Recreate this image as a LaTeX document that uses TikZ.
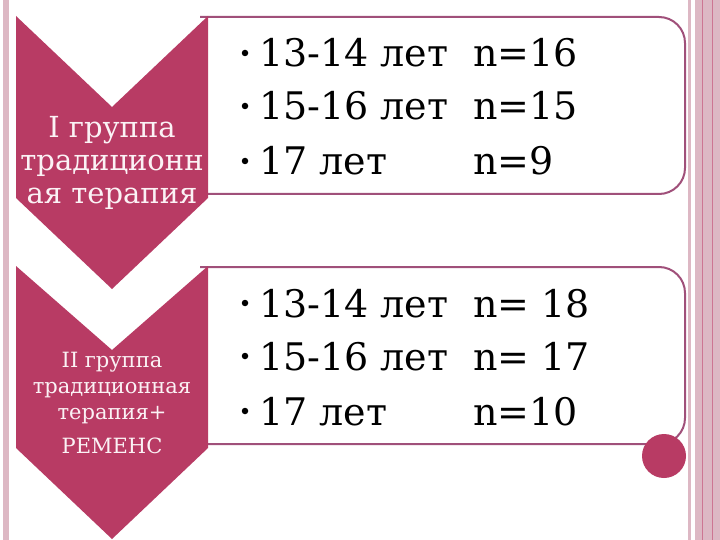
\documentclass[tikz,border=0pt]{standalone}
\usepackage{fontspec}
\setmainfont{DejaVu Serif}
\definecolor{crim}{HTML}{B83B64}
\definecolor{rbord}{HTML}{A0507A}
\definecolor{band}{HTML}{DDB8C4}
\definecolor{ctext}{HTML}{FBF2F5}
\begin{document}
\begin{tikzpicture}[x=1pt,y=-1pt,
  chev/.style={fill=crim,draw=none},
  rbox/.style={draw=rbord,line width=2pt,fill=white,rounded corners=26pt},
  lblA/.style={anchor=base,text=ctext,font=\fontsize{29}{33}\selectfont,inner sep=0pt},
  lblB/.style={anchor=base,text=ctext,font=\fontsize{21}{24}\selectfont,inner sep=0pt},
  item/.style={anchor=base west,text=black,font=\fontsize{38}{44}\selectfont,inner sep=0pt},
  bul/.style={fill=black,circle,inner sep=0pt,minimum size=6.5pt}]
\useasboundingbox (0,0) rectangle (720,540);
\fill[white] (0,0) rectangle (720,540);
% side bands
\fill[band] (3,0) rectangle (9,540);
\fill[band] (688,0) rectangle (690.5,540);
\fill[band] (695,0) rectangle (720,540);
\draw[crim!70,line width=0.8pt] (702,0) -- (702,540);
\draw[crim!70,line width=0.8pt] (712,0) -- (712,540);
% boxes
\draw[rbox] (200,17) -- (685,17) -- (685,194) -- (200,194);
\draw[rbox] (200,267) -- (685,267) -- (685,444) -- (200,444);
% chevrons
\fill[chev] (16,16) -- (112,107) -- (208,16) -- (208,198) -- (112,289) -- (16,198) -- cycle;
\fill[chev] (16,266) -- (112,350) -- (208,266) -- (208,448) -- (112,539) -- (16,448) -- cycle;
% circle
\fill[crim] (664,456) circle (22);
% chevron labels
\node[lblA] (a1) at (112,138) {I группа};
\node[lblA] (a2) at (112,171) {традиционн};
\node[lblA] (a3) at (112,204) {ая терапия};
\node[lblB] (b1) at (112,367) {II группа};
\node[lblB] (b2) at (112,393) {традиционная};
\node[lblB] (b3) at (112,419) {терапия+};
\node[lblB] (b4) at (112,453) {РЕМЕНС};
% items group 1
\node[bul] (p1) at (245,53) {};
\node[item] (t1) at (259,67) {\makebox[214pt][l]{13-14 лет}n=16};
\node[bul] (p2) at (245,106) {};
\node[item] (t2) at (259,120) {\makebox[214pt][l]{15-16 лет}n=15};
\node[bul] (p3) at (245,161) {};
\node[item] (t3) at (259,175) {\makebox[214pt][l]{17 лет}n=9};
% items group 2
\node[bul] (q1) at (245,303) {};
\node[item] (u1) at (259,317) {\makebox[214pt][l]{13-14 лет}n= 18};
\node[bul] (q2) at (245,356) {};
\node[item] (u2) at (259,370) {\makebox[214pt][l]{15-16 лет}n= 17};
\node[bul] (q3) at (245,411) {};
\node[item] (u3) at (259,425) {\makebox[214pt][l]{17 лет}n=10};
\end{tikzpicture}
\end{document}
